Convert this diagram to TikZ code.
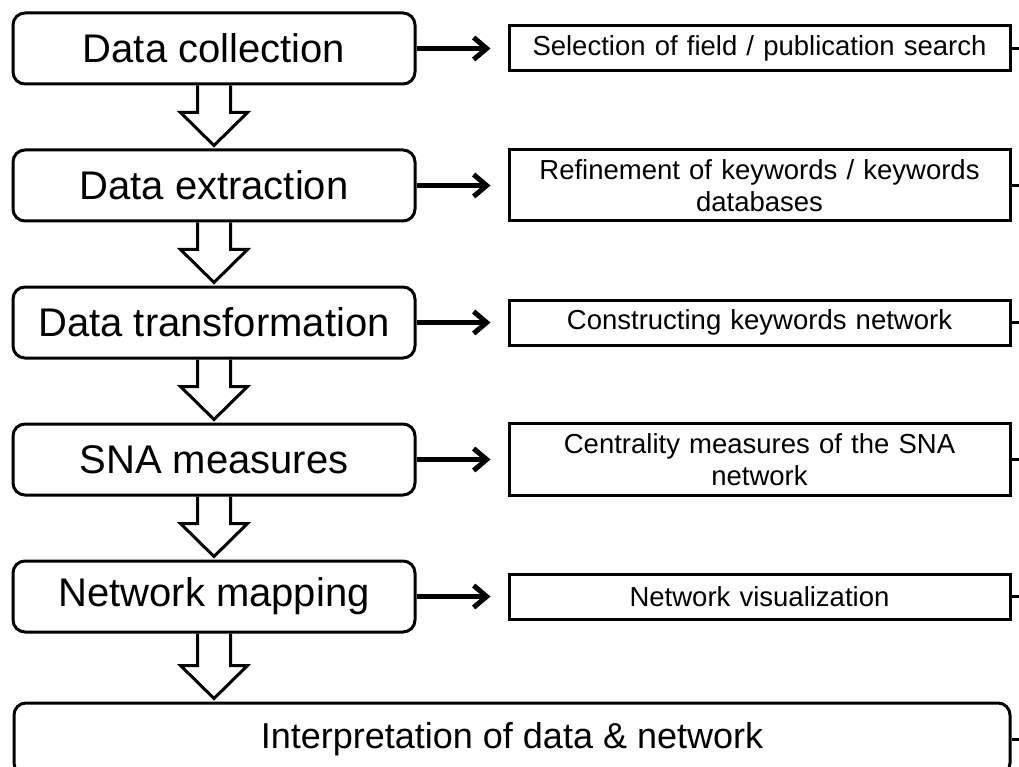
\documentclass[tikz,border=0pt]{standalone}
\usepackage{fontspec}
\setmainfont{Liberation Sans}
\usetikzlibrary{positioning, arrows.meta, calc}
\tikzset{x=1pt, y=1pt,
         node distance=137pt,
         stage/.style={draw, line width=3pt, rounded corners=12pt, minimum width=402pt,
                       minimum height=71pt, font=\fontsize{40}{46}\selectfont},
         task/.style={draw, line width=3pt, minimum width=501pt, minimum height=45pt,
                      text width=480pt, align=center, font=\fontsize{27.5}{32}\selectfont},
         flow/.style={-{Straight Barb[length=13pt, width=22pt]}, line width=5pt, shorten >=17pt},
         hollow/.style={line width=3pt, line join=miter},
         stub/.style={line width=3pt},
         }

\begin{document}
\begin{tikzpicture}
    \useasboundingbox (0,0) rectangle (1019,-767);

    \node[stage] (collect) at (214,-48.5) {Data collection};
    \node[stage, below of=collect] (extract) {Data extraction};
    \node[stage, below of=extract] (transform) {Data transformation};
    \node[stage, below of=transform] (sna) {SNA measures};
    \node[stage, below of=sna] (mapping) {Network mapping};
    \node[stage, below of=mapping, node distance=142.5pt, xshift=298pt, minimum width=996pt,
          minimum height=72pt, font=\fontsize{36}{42}\selectfont] (interpret) {Interpretation of data \& network};

    \node[task, right of=collect, node distance=545.5pt] (selection) {Selection of field / publication search};
    \node[task, right of=extract, node distance=545.5pt, minimum height=71pt] (refine) {Refinement of keywords / keywords\\databases};
    \node[task, right of=transform, node distance=545.5pt] (construct) {Constructing keywords network};
    \node[task, right of=sna, node distance=545.5pt, minimum height=72pt] (centrality) {Centrality measures of the SNA\\network};
    \node[task, right of=mapping, node distance=545.5pt] (visual) {Network visualization};

    \coordinate (edge) at (1030,0);

    % steps to tasks
    \foreach \a/\b in {collect/selection, extract/refine, transform/construct, sna/centrality, mapping/visual}
        \draw[flow] (\a.east) -- (\b.west);

    % lines running off to the right
    \foreach \n in {selection, refine, construct, centrality, visual, interpret}
        \draw[stub] (\n.east) -- (\n.east -| edge);

    % hollow block arrows between the steps
    \foreach \a/\b in {collect/extract, extract/transform, transform/sna, sna/mapping, mapping/interpret}
        \draw[hollow] ($(\a.south)+(-16.5,0)$) -- ($(\a.south |- \b.north)+(-16.5,36)$) -- ++(-17,0)
            -- ($(\a.south |- \b.north)+(0,3)$) -- ($(\a.south |- \b.north)+(33.5,36)$) -- ++(-17,0)
            -- ($(\a.south)+(16.5,0)$);
\end{tikzpicture}
\end{document}
